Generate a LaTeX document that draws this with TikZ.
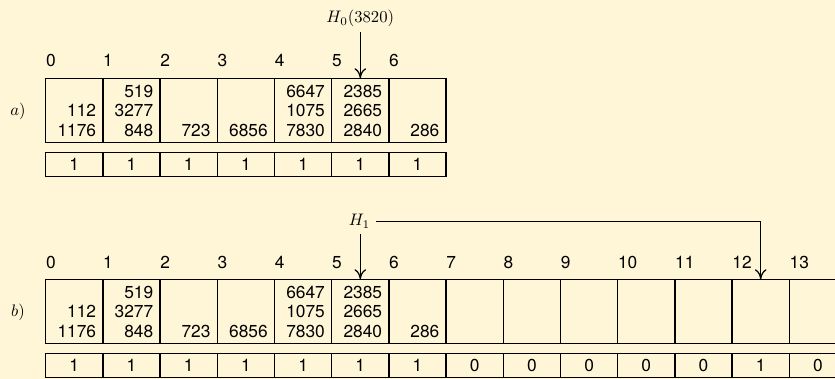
\documentclass[tikz,border=0pt]{standalone}
\usepackage{fontspec}
\newfontfamily\hv{TeX Gyre Heros}
\usetikzlibrary{calc,arrows.meta}
\definecolor{bg}{RGB}{255,245,215}
\begin{document}
\begin{tikzpicture}[x=0.6pt,y=-0.6pt,
 cell/.style={draw,line width=0.9pt,minimum width=34.32pt,minimum height=38.4pt,inner sep=0,outer sep=0},
 bitbox/.style={draw,line width=0.9pt,minimum width=34.32pt,minimum height=14.4pt,inner sep=0,outer sep=0,font=\hv\fontsize{10.4}{12}\selectfont},
 num/.style={anchor=base east,inner sep=0,font=\hv\fontsize{10.4}{12}\selectfont},
 idx/.style={anchor=base west,inner sep=0,font=\hv\fontsize{10.4}{12}\selectfont},
 hlab/.style={anchor=base,inner sep=3pt},
 arr/.style={-{Computer Modern Rightarrow[length=6pt,width=7pt]},line width=0.75pt}]
\fill[bg] (0,0) rectangle (835,379);
\useasboundingbox (0,0) rectangle (835,379);
% part a
\foreach \i in {0,...,6}{
  \node[cell] (a\i) at (74.3+57.2*\i,110.3) {};
  \node[bitbox] (ab\i) at (74.3+57.2*\i,164.7) {1};
  \node[idx] (ai\i) at (45.7+57.2*\i,66.7) {\i};
}
\node (la) at (18,111.7) {$a)$};
\node[num] (an01) at ($(a0.north east)+(-6.5,38.6)$) {112};
\node[num] (an02) at ($(a0.north east)+(-6.5,58.6)$) {1176};
\node[num] (an10) at ($(a1.north east)+(-6.5,19.3)$) {519};
\node[num] (an11) at ($(a1.north east)+(-6.5,38.6)$) {3277};
\node[num] (an12) at ($(a1.north east)+(-6.5,58.6)$) {848};
\node[num] (an22) at ($(a2.north east)+(-6.5,58.6)$) {723};
\node[num] (an32) at ($(a3.north east)+(-6.5,58.6)$) {6856};
\node[num] (an40) at ($(a4.north east)+(-6.5,19.3)$) {6647};
\node[num] (an41) at ($(a4.north east)+(-6.5,38.6)$) {1075};
\node[num] (an42) at ($(a4.north east)+(-6.5,58.6)$) {7830};
\node[num] (an50) at ($(a5.north east)+(-6.5,19.3)$) {2385};
\node[num] (an51) at ($(a5.north east)+(-6.5,38.6)$) {2665};
\node[num] (an52) at ($(a5.north east)+(-6.5,58.6)$) {2840};
\node[num] (an62) at ($(a6.north east)+(-6.5,58.6)$) {286};
\node[hlab] (h0) at (360.3,22.7) {$H_0(3820)$};
\draw[arr] (h0.south) -- (a5.north);
% part b
\foreach \i/\v in {0/1,1/1,2/1,3/1,4/1,5/1,6/1,7/0,8/0,9/0,10/0,11/0,12/1,13/0}{
  \node[cell] (b\i) at (74.3+57.2*\i,311.3) {};
  \node[bitbox] (bb\i) at (74.3+57.2*\i,365.7) {\v};
  \node[idx] (bi\i) at (45.7+57.2*\i,268.3) {\i};
}
\node (lb) at (18,312.7) {$b)$};
\node[num] (bn01) at ($(b0.north east)+(-6.5,38.6)$) {112};
\node[num] (bn02) at ($(b0.north east)+(-6.5,58.6)$) {1176};
\node[num] (bn10) at ($(b1.north east)+(-6.5,19.3)$) {519};
\node[num] (bn11) at ($(b1.north east)+(-6.5,38.6)$) {3277};
\node[num] (bn12) at ($(b1.north east)+(-6.5,58.6)$) {848};
\node[num] (bn22) at ($(b2.north east)+(-6.5,58.6)$) {723};
\node[num] (bn32) at ($(b3.north east)+(-6.5,58.6)$) {6856};
\node[num] (bn40) at ($(b4.north east)+(-6.5,19.3)$) {6647};
\node[num] (bn41) at ($(b4.north east)+(-6.5,38.6)$) {1075};
\node[num] (bn42) at ($(b4.north east)+(-6.5,58.6)$) {7830};
\node[num] (bn50) at ($(b5.north east)+(-6.5,19.3)$) {2385};
\node[num] (bn51) at ($(b5.north east)+(-6.5,38.6)$) {2665};
\node[num] (bn52) at ($(b5.north east)+(-6.5,58.6)$) {2840};
\node[num] (bn62) at ($(b6.north east)+(-6.5,58.6)$) {286};
\node[hlab] (h1) at (359.5,225.7) {$H_1$};
\draw[arr] (h1.south -| b5.north) -- (b5.north);
\draw[arr] (h1.east) -- (h1.east -| b12.north) -- (b12.north);
\end{tikzpicture}
\end{document}
